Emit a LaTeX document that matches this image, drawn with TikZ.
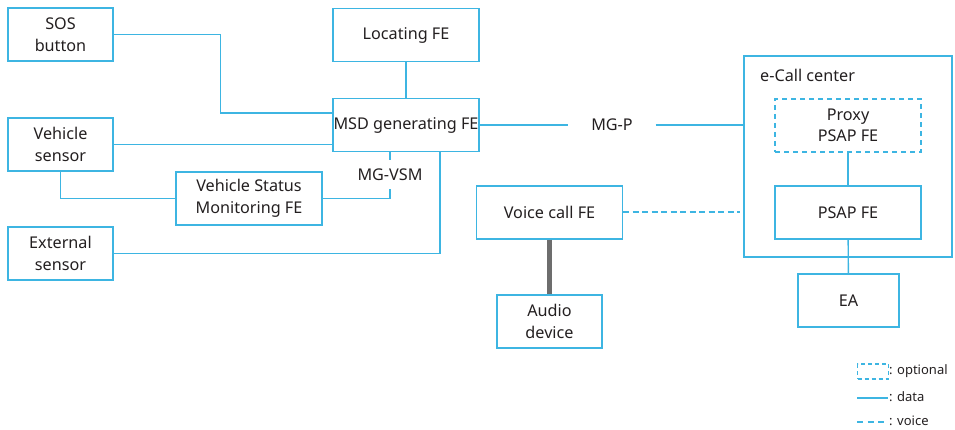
\documentclass[tikz,border=0pt]{standalone}
\usepackage{fontspec}
\setmainfont{Noto Sans}
\definecolor{ecallblue}{HTML}{3DB5E2}
\definecolor{ecalltext}{HTML}{231F20}
\definecolor{audiogray}{HTML}{6D6D6D}
\tikzset{
	fe/.style={draw=ecallblue, line width=1.4pt, align=center, inner sep=0pt, text=ecalltext},
	data/.style={draw=ecallblue, line width=1.4pt},
	voice/.style={draw=ecallblue, line width=1.5pt, dash pattern=on 6pt off 3.5pt},
}
\begin{document}
\begin{tikzpicture}[x=1pt, y=-1pt, font=\fontsize{16.2}{21.5}\selectfont]
				\useasboundingbox (0,0) rectangle (955,430);
				
				% vehicle side
				\begin{scope}[every node/.style={fe, minimum width=105, minimum height=53}]
					\node (SOS) at (60.5,34.5) {SOS\\button};
					\node (Vsensor) at (60.5,144.5) {Vehicle\\sensor};
					\node (Esensor) at (60.5,253.5) {External\\sensor};
					\node (Audio) at (549.5,321.5) {Audio\\device};
				\end{scope}
				\begin{scope}[every node/.style={fe, minimum width=146, minimum height=53}]
					\node (Locating) at (406,35) {Locating FE};
					\node (MSD) at (406,125) {MSD generating FE};
					\node (VSM) at (249,198.5) {Vehicle Status\\Monitoring FE};
					\node (Voice) at (549.5,212.5) {Voice call FE};
				\end{scope}
				
				% e-Call center
				\node[fe, minimum width=208, minimum height=201] (Center) at (848,156.5) {};
				\node[anchor=west, text=ecalltext, inner sep=0pt] (CenterLabel) at (760,75) {e-Call center};
				\node[fe, dash pattern=on 5pt off 4pt, minimum width=146, minimum height=53] (Proxy) at (848,125.5) {Proxy\\PSAP FE};
				\node[fe, minimum width=146, minimum height=53] (PSAP) at (848,212.5) {PSAP FE};
				\node[fe, minimum width=101, minimum height=53] (EA) at (848.5,300.5) {EA};
				
				% reference point labels
				\node[inner sep=0pt, minimum width=87, minimum height=20, text=ecalltext] (MGP) at (612,125) {MG-P};
				\node[inner sep=0pt, minimum width=70, minimum height=29, text=ecalltext] (MGVSM) at (390,174.5) {MG-VSM};
				
				% data links
				\draw[data] (SOS.east) -- ++(107,0) |- ([yshift=12pt]MSD.west);
				\draw[data] (Vsensor.east) -- (Vsensor.east -| MSD.west);
				\draw[data] (Vsensor.south) |- (VSM.west);
				\draw[data] (VSM.east) -| (MGVSM.south);
				\draw[data] (MGVSM.north) -- (MGVSM.north |- MSD.south);
				\draw[data] (Esensor.east) -| ([xshift=34pt]MSD.south);
				\draw[data] (Locating) -- (MSD);
				\draw[data] (MSD.east) -- (MGP.west);
				\draw[data] (MGP.east) -- (MGP.east -| Center.west);
				\draw[data] (Proxy) -- (PSAP);
				\draw[data] (PSAP) -- (EA);
				
				% voice links
				\coordinate (VoiceEnd) at (740,212);
				\draw[voice] ([yshift=0.5pt]Voice.east) -- (VoiceEnd);
				\draw[audiogray, line width=4.5pt] (Voice.south) -- (Audio.north);
				
				% legend
				\begin{scope}[every node/.style={anchor=west, inner sep=0pt, text=ecalltext, font=\fontsize{13}{15}\selectfont}]
					\node[fe, dash pattern=on 4pt off 3pt, minimum width=31, minimum height=15] (OptBox) at (857,371.5) {};
					\node (OptText) at (889,371) {: optional};
					\coordinate (DataA) at (857,398);
					\coordinate (DataB) at (888,398);
					\node (DataText) at (889,396.5) {: data};
					\coordinate (VoiceA) at (857,422);
					\coordinate (VoiceB) at (888,422);
					\node (VoiceText) at (889,421) {: voice};
				\end{scope}
				\draw[data] (DataA) -- (DataB);
				\draw[voice, dash pattern=on 6pt off 4.5pt] (VoiceA) -- (VoiceB);
			\end{tikzpicture}
\end{document}
